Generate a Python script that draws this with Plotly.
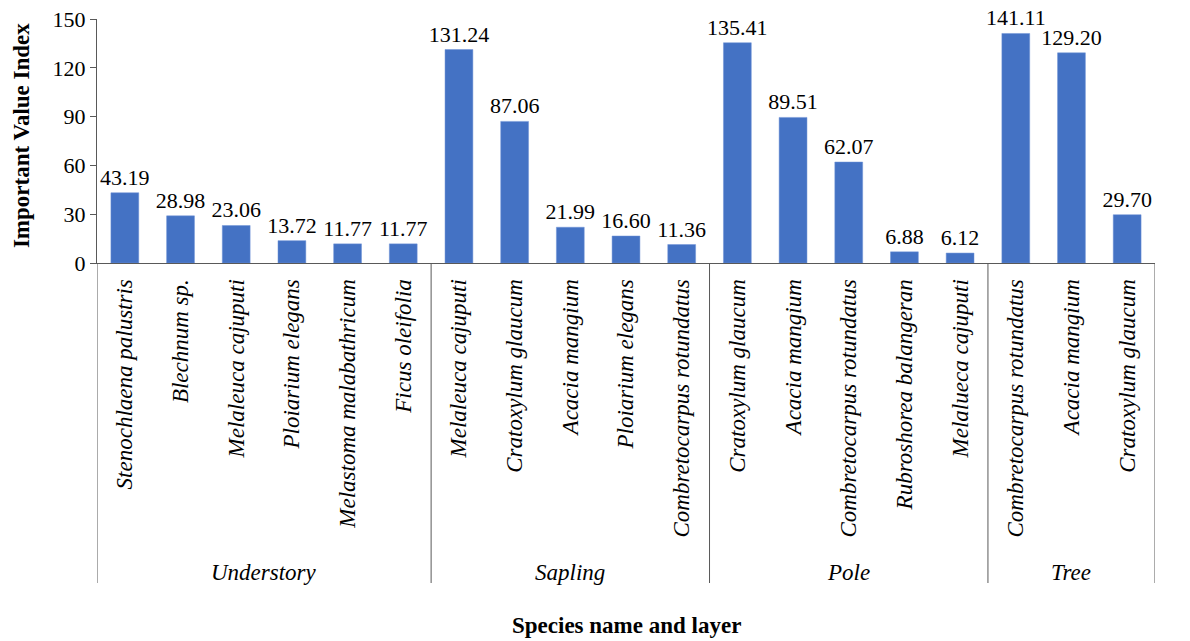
import plotly.graph_objects as go

species = ["Stenochlaena palustris", "Blechnum sp.", "Melaleuca cajuputi", "Ploiarium elegans",
           "Melastoma malabathricum", "Ficus oleifolia",
           "Melaleuca cajuputi", "Cratoxylum glaucum", "Acacia mangium", "Ploiarium elegans",
           "Combretocarpus rotundatus",
           "Cratoxylum glaucum", "Acacia mangium", "Combretocarpus rotundatus", "Rubroshorea balangeran",
           "Melalueca cajuputi",
           "Combretocarpus rotundatus", "Acacia mangium", "Cratoxylum glaucum"]
values = [43.19, 28.98, 23.06, 13.72, 11.77, 11.77,
          131.24, 87.06, 21.99, 16.60, 11.36,
          135.41, 89.51, 62.07, 6.88, 6.12,
          141.11, 129.20, 29.70]
layers = ["Understory", "Sapling", "Pole", "Tree"]
layer_sizes = [6, 5, 5, 3]
y_ticks = [0, 30, 60, 90, 120, 150]

W, H = 1190, 641
L, T = 97, 19
plot_w, plot_h = 1058, 244
R = W - L - plot_w
B = H - T - plot_h

x = list(range(len(values)))
serif = "Liberation Serif, Times New Roman, serif"

fig = go.Figure(go.Bar(
    x=x, y=values, width=0.5,
    marker=dict(color="#4472C4", line=dict(color="#6F93D6", width=0.5)),
    text=[f"{v:.2f}" for v in values], textposition="outside",
    textfont=dict(family=serif, size=22, color="#000000"),
    cliponaxis=False,
))

shapes = []
annotations = []
start = 0
bounds = [-0.5]
for name, n in zip(layers, layer_sizes):
    center = start + (n - 1) / 2
    annotations.append(dict(x=center, xref="x", y=-(572 - 263) / plot_h, yref="paper",
                            text=name, showarrow=False, xanchor="center", yanchor="middle",
                            font=dict(family=serif, size=23, color="#000000", style="italic")))
    start += n
    bounds.append(start - 0.5)
for b in bounds:
    shapes.append(dict(type="line", xref="x", yref="paper", x0=b, x1=b,
                       y0=0, y1=-(583 - 263) / plot_h, line=dict(color="#595959", width=1)))

annotations.append(dict(x=0.5, xref="paper", y=-(626 - 263) / plot_h, yref="paper",
                        text="<b>Species name and layer</b>", showarrow=False,
                        xanchor="center", yanchor="middle",
                        font=dict(family=serif, size=23, color="#000000")))
annotations.append(dict(x=-(97 - 21) / plot_w, xref="paper", y=0.52, yref="paper",
                        text="<b>Important Value Index</b>", showarrow=False, textangle=-90,
                        xanchor="center", yanchor="middle",
                        font=dict(family=serif, size=23, color="#000000")))

fig.update_layout(
    width=W, height=H,
    margin=dict(l=L, r=R, t=T, b=B, autoexpand=False),
    plot_bgcolor="white", paper_bgcolor="white",
    showlegend=False, bargap=0.5,
    uniformtext=dict(minsize=22, mode="show"),
    shapes=shapes, annotations=annotations,
    xaxis=dict(range=[-0.5, len(values) - 0.5], tickmode="array", tickvals=x,
               ticktext=species, tickangle=-90, ticks="", showgrid=False, automargin=False,
               ticklabelstandoff=6,
               showline=True, linecolor="#595959", linewidth=1, zeroline=False,
               tickfont=dict(family=serif, size=23, color="#000000", style="italic")),
    yaxis=dict(range=[0, 150], tickmode="array", tickvals=y_ticks, ticks="outside",
               ticklen=6, tickcolor="#595959", showgrid=False, zeroline=False, automargin=False,
               showline=True, linecolor="#595959", linewidth=1,
               tickfont=dict(family=serif, size=22, color="#000000")),
)

fig.write_html("out.html", config={"displayModeBar": False},
               post_script="document.body.style.margin='0';")
